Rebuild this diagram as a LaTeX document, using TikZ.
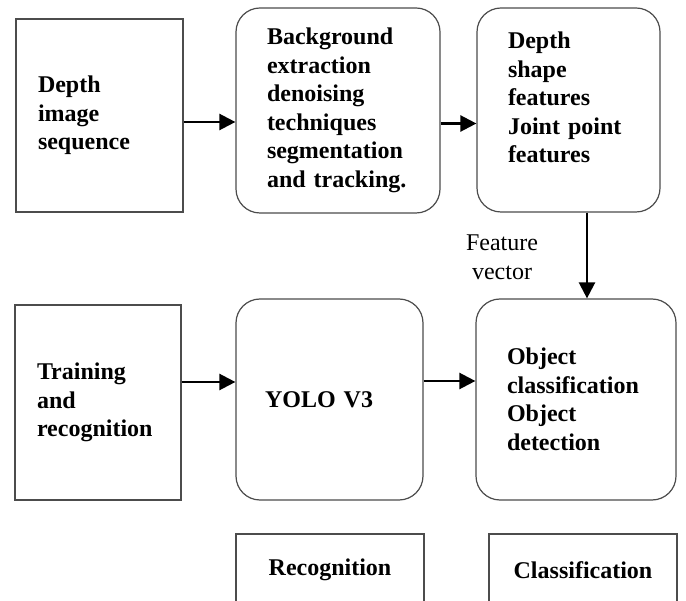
\documentclass[tikz,border=0pt]{standalone}
\usepackage{fontspec}
\setmainfont{Liberation Serif}
\usetikzlibrary{arrows.meta}

\begin{document}
\begin{tikzpicture}[x=1pt,y=-1pt,
    font=\fontsize{24}{28.5}\selectfont,
    plainbox/.style={draw=black!70, line width=1.2pt, font=\fontsize{24}{28.5}\selectfont\bfseries,
      align=left, inner xsep=22pt, inner ysep=0pt},
    roundbox/.style={plainbox, rounded corners=24pt, inner xsep=31pt},
    tagbox/.style={plainbox, align=center, inner xsep=0pt},
    flow/.style={line width=2.4pt, -{Triangle[length=16pt,width=16pt]}}]
  \useasboundingbox (0,0) rectangle (686,601);
  \fill[white] (0,0) rectangle (686,601);
  % upper row
  \node[plainbox, text width=123pt, minimum height=193pt] (seq) at (99.5,115.5)
    {Depth\\ image\\ sequence};
  \node[roundbox, text width=142pt, minimum height=205pt] (bg) at (338,110.5)
    {Background\\ extraction\\ denoising\\ techniques\\ segmentation\\ and tracking.};
  \node[roundbox, text width=121pt, minimum height=204pt] (feat) at (568.5,110)
    {Depth\\ shape\\ features\\ Joint point\\ features\\[-12pt] \strut};
  % lower row
  \node[plainbox, text width=122pt, minimum height=195pt] (train) at (98,402.5)
    {Training\\ and\\ recognition};
  \node[roundbox, text width=129pt, minimum height=201pt, inner xsep=29pt] (yolo) at (329.5,399.5)
    {YOLO V3};
  \node[roundbox, text width=138pt, minimum height=201pt] (obj) at (576,399.5)
    {Object\\ classification\\ Object\\ detection};
  % captions
  \node[tagbox, minimum width=188pt, minimum height=72pt] (recog) at (330,570) {};
  \node[tagbox, minimum width=188pt, minimum height=72pt] (cls) at (583,570) {};
  \node[font=\fontsize{24}{28.5}\selectfont\bfseries] at (330,570) {Recognition};
  \node[font=\fontsize{24}{28.5}\selectfont\bfseries] at (583,570) {Classification};
  % arrows
  \draw[flow] ([yshift=-6.5pt]seq.east) -- ([yshift=-6.5pt]seq.east -| bg.west);
  \draw[flow] ([yshift=-13pt]bg.east) -- ([yshift=-13pt]bg.east -| feat.west);
  \draw[flow] ([xshift=18.5pt]feat.south) -- ([xshift=18.5pt]feat.south |- obj.north);
  \draw[flow] ([yshift=20.5pt]train.east) -- ([yshift=20.5pt]train.east -| yolo.west);
  \draw[flow] ([yshift=18.5pt]yolo.east) -- ([yshift=18.5pt]yolo.east -| obj.west);
  \node[align=center, font=\fontsize{24}{29}\selectfont] (fv) at (502,257) {Feature\\ vector};
\end{tikzpicture}
\end{document}
